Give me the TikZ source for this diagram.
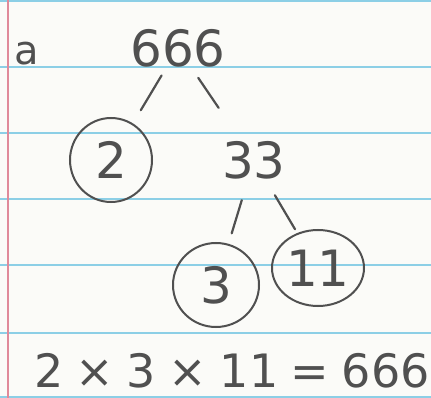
\documentclass[tikz,border=0pt]{standalone}
\usepackage{fontspec}
\setmainfont{DejaVu Sans}
\definecolor{rule}{HTML}{8CCFE6}
\definecolor{margin}{HTML}{E08A9A}
\definecolor{pencil}{HTML}{505050}
\definecolor{paper}{HTML}{FBFBF8}
\newcommand{\gp}{\hspace{12.5pt}}
\begin{document}
\begin{tikzpicture}[x=1pt,y=-1pt,
  num/.style={text=pencil, inner sep=0pt, font=\fontsize{50}{50}\selectfont},
  ring/.style={draw=pencil, line width=2pt},
  edge/.style={draw=pencil, line width=2.2pt, line cap=round}]
\fill[paper] (0,0) rectangle (431,398);
\useasboundingbox (0,0) rectangle (431,398);
\foreach \y in {1,67,133,199,265,333,397}
  \draw[rule, line width=1.3pt] (0,\y) -- (431,\y);
\draw[margin, line width=1.2pt] (8,0) -- (8,398);
% nodes
\node[num, font=\fontsize{40}{40}\selectfont] (a) at (27,54) {a};
\node[num] (n666) at (178,48) {666};
\node[num] (n2) at (111,160) {2};
\node[num] (n33) at (254,160) {33};
\node[num] (n3) at (216,285) {3};
\node[num] (n11) at (318,268) {11};
\draw[ring] (n2) ellipse (41pt and 42pt);
\draw[ring] (n3) ellipse (43pt and 42pt);
\draw[ring] (n11) ellipse (46pt and 38pt);
% connectors
\draw[edge, shorten <=32pt, shorten >=58pt] (n666.center) -- (n2.center);
\draw[edge, shorten <=36pt, shorten >=63pt] (n666.center) -- (n33.center);
\draw[edge, shorten <=42pt, shorten >=54pt] (n33.center) -- (n3.center);
\draw[edge, shorten <=41pt, shorten >=45pt] (n33.center) -- (n11.center);
\node[num, font=\fontsize{46}{46}\selectfont, anchor=base west] (eq) at (34,387) {2\gp×\gp3\gp×\gp11\gp=\gp666};
\end{tikzpicture}
\end{document}
